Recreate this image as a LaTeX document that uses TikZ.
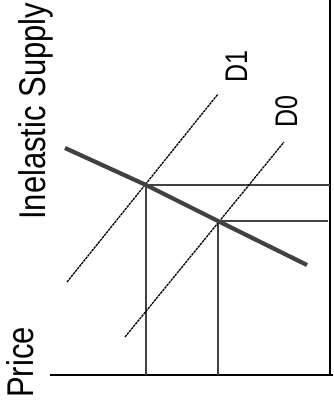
\documentclass[tikz,border=0pt]{standalone}
\usepackage{fontspec}
\setmainfont{Liberation Sans}
\usepackage{tikz}
\usetikzlibrary{arrows.meta}
\definecolor{linegray}{RGB}{65,65,65}

\begin{document}
\begin{tikzpicture}[x=1pt, y=-1pt,
  axisline/.style={draw=black, line width=2.2pt},
  dropline/.style={draw=linegray, line width=2pt},
  supplyline/.style={draw=linegray, line width=4.2pt},
  demandline/.style={draw=black, line width=1.3pt, dash pattern=on 2.5pt off 0.8pt},
  bigtext/.style={font=\fontsize{31}{36}\selectfont, inner sep=0pt, rotate=90},
  dlabel/.style={font=\fontsize{25}{30}\selectfont, inner sep=0pt, rotate=90, anchor=base west}]
  \useasboundingbox (0,0) rectangle (333,417);
  % Axes
  \coordinate (origin) at (50,375);
  \coordinate (axisend) at (333,375);
  \coordinate (axistop) at (330,0);
  \coordinate (axisfoot) at (330,375);
  \draw[axisline] (origin) -- (axisend);
  \draw[axisline] (axistop) -- (axisfoot);
  % Equilibrium points
  \coordinate (E1) at (146,185);
  \coordinate (E0) at (218,221);
  % Drop lines
  \coordinate (E1axis) at (146,375);
  \coordinate (E0axis) at (218,375);
  \coordinate (E1right) at (330,185);
  \coordinate (E0right) at (328,221);
  \draw[dropline] (E1) -- (E1axis);
  \draw[dropline] (E0) -- (E0axis);
  \draw[dropline] (E1) -- (E1right);
  \draw[dropline] (E0) -- (E0right);
  % Demand curves
  \coordinate (D1low) at (67,282);
  \coordinate (D1high) at (218,94);
  \coordinate (D0low) at (125,337);
  \coordinate (D0high) at (284,142);
  \draw[demandline] (D1low) -- (D1high);
  \draw[demandline] (D0low) -- (D0high);
  % Inelastic supply
  \coordinate (Sleft) at (65,148);
  \coordinate (Sright) at (307,265);
  \draw[supplyline] (Sleft) -- (E1) -- (E0) -- (Sright);
  % Labels
  \node[dlabel] (labD1) at (247,83) {\scalebox{1}[1.25]{D1}};
  \node[dlabel] (labD0) at (297,128) {\scalebox{1}[1.25]{D0}};
  \node[bigtext, anchor=base west] (title) at (45,220) {\scalebox{1}[1.2]{Inelastic Supply}};
  \node[bigtext, anchor=base west] (price) at (33,398) {\scalebox{1}[1.2]{Price}};
\end{tikzpicture}
\end{document}
